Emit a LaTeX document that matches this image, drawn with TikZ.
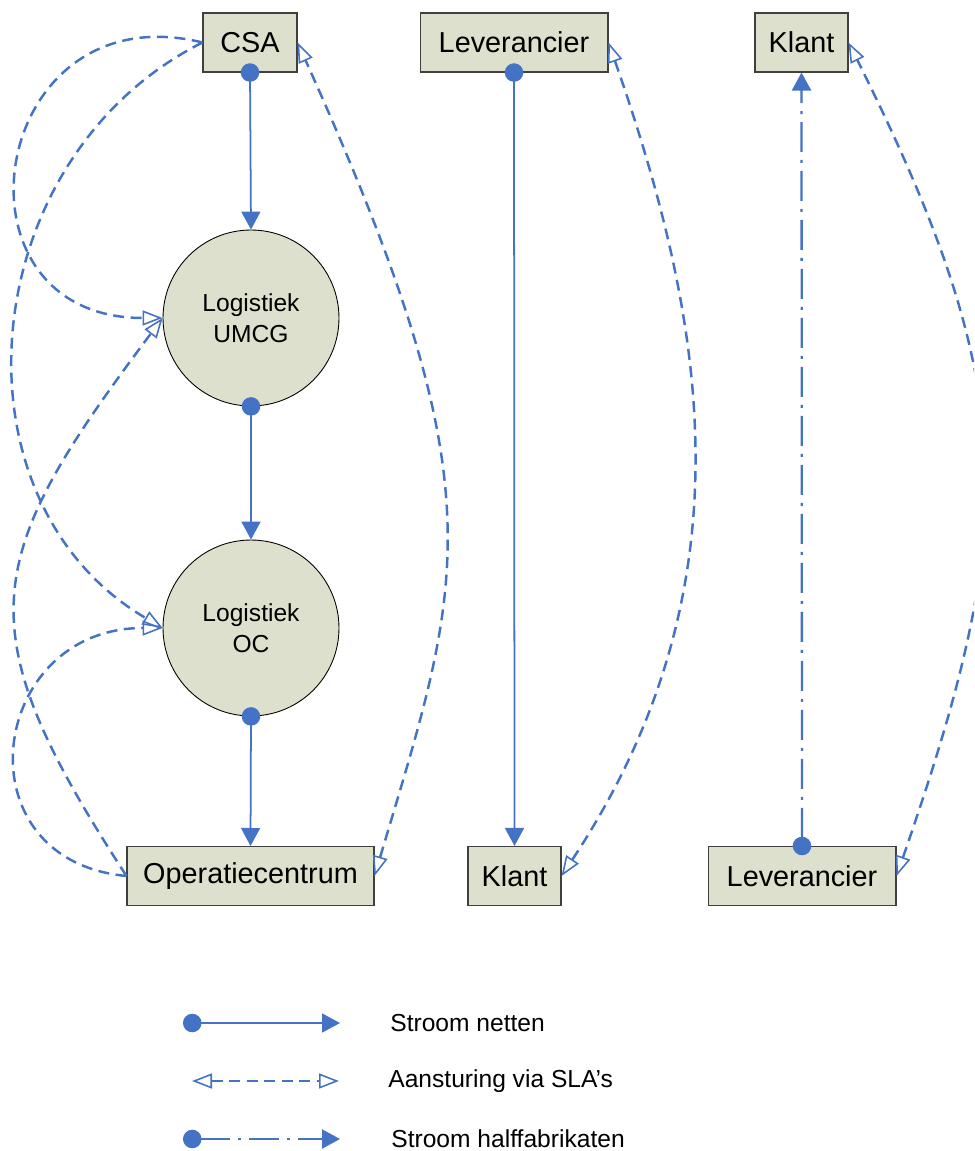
\documentclass[tikz,border=0pt]{standalone}
\usepackage{fontspec}
\setmainfont{Liberation Sans}
\usepackage{tikz}
\usetikzlibrary{arrows.meta}
\definecolor{lijnblauw}{RGB}{68,114,196}
\definecolor{vakgroen}{RGB}{221,224,204}

\begin{document}
\begin{tikzpicture}[
    x=0.02cm, y=-0.02cm,
    box/.style={rectangle, draw=black!75, line width=0.6pt, fill=vakgroen,
      minimum height=1.18cm, inner sep=0pt, font=\fontsize{16.4}{19}\selectfont},
    proces/.style={circle, draw=black, line width=0.5pt, fill=vakgroen,
      minimum size=3.52cm, inner sep=0pt, align=center, font=\fontsize{14}{17.6}\selectfont},
    stroom/.style={lijnblauw, line width=1pt,
      {Circle[length=0.37cm]}-{Triangle[length=0.36cm, width=0.38cm]}},
    halffab/.style={stroom, line width=1.3pt,
      dash pattern=on 0.6cm off 0.16cm on 0.06cm off 0.16cm},
    opgrens/.style={shorten <=-0.185cm},
    sla/.style={lijnblauw, line width=1.4pt, dash pattern=on 0.22cm off 0.13cm,
      >={Triangle[open, length=0.4cm, width=0.3cm, line width=0.9pt]}},
    note/.style={anchor=west, inner sep=0pt, font=\fontsize{14}{17}\selectfont},
  ]
    \useasboundingbox (0,0) rectangle (974,1151);
    \clip (0,0) rectangle (974,1151);

    \node[box, minimum width=1.88cm] (csa)      at (250,42.5)  {CSA};
    \node[box, minimum width=3.76cm] (levtop)   at (514,42.5)  {Leverancier};
    \node[box, minimum width=1.86cm] (klanttop) at (801.5,42.5) {Klant};
    \node[proces] (umcg) at (251,318) {Logistiek\\UMCG};
    \node[proces] (oc)   at (251,628) {Logistiek\\OC};
    \node[box, minimum width=4.94cm] (opc)      at (250.5,876) {Operatiecentrum};
    \node[box, minimum width=1.86cm] (klantbot) at (514.5,876) {Klant};
    \node[box, minimum width=3.76cm] (levbot)   at (802,876)   {Leverancier};

    \draw[stroom, opgrens] (csa.south)    -- (umcg.north);
    \draw[stroom, opgrens] (umcg.south)   -- (oc.north);
    \draw[stroom, opgrens] (oc.south)     -- (opc.north);
    \draw[stroom, opgrens] (levtop.south) -- (klantbot.north);
    \draw[halffab, opgrens] (levbot.north) -- (klanttop.south);

    \draw[sla, ->] (csa.west) .. controls (-12,-10) and (-60,318) .. (umcg.west);
    \draw[sla, ->] (csa.west) .. controls (-27,158) and (-55,500) .. (oc.west);
    \draw[sla, ->] (opc.west) .. controls (-36,626) and (-19,560) .. (umcg.west);
    \draw[sla, ->] (opc.west) .. controls (-42,860) and (-12,628) .. (oc.west);
    \draw[sla, <->] (opc.east) .. controls (464,576) and (500,492) .. (csa.east);
    \draw[sla, <->] (klantbot.east) .. controls (753,586) and (706,322) .. (levtop.east);
    \draw[sla, <->] (levbot.east) .. controls (1018,526) and (1023,392) .. (klanttop.east);

    \coordinate (l1a) at (183,1023);
    \coordinate (l1b) at (340,1023);
    \coordinate (l2a) at (192,1081);
    \coordinate (l2b) at (339,1081);
    \coordinate (l3a) at (183,1139);
    \coordinate (l3b) at (340,1139);
    \draw[stroom]  (l1a) -- (l1b);
    \draw[sla, <->] (l2a) -- (l2b);
    \draw[halffab] (l3a) -- (l3b);
    \node[note] (leg1) at (390,1023) {Stroom netten};
    \node[note] (leg2) at (388,1081) {Aansturing via SLA’s};
    \node[note] (leg3) at (391,1139) {Stroom halffabrikaten};
  \end{tikzpicture}
\end{document}
